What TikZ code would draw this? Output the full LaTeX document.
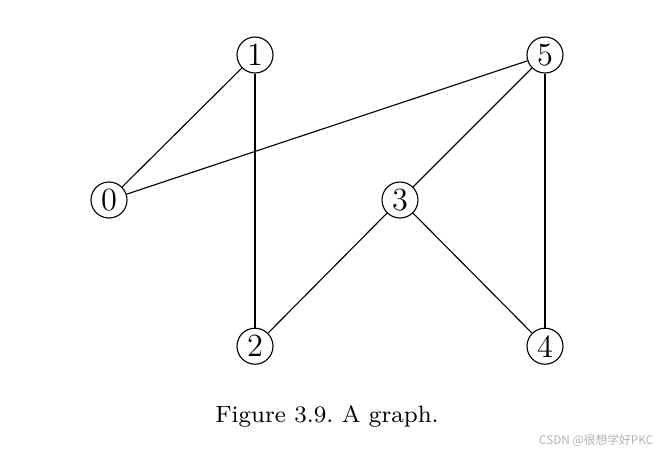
\documentclass[tikz,border=0pt]{standalone}
\usepackage{fontspec}
\newfontfamily\cjkfont{Noto Sans CJK SC}
\usetikzlibrary{positioning}

\begin{document}
\begin{tikzpicture}[node distance=1.8125cm and 1.8125cm,on grid,
                    main node/.style={circle,draw,inner sep=0pt,minimum size=0.45cm,
                                      font=\fontsize{11.5}{13}\selectfont}]

  \useasboundingbox (-1.3625,2.5) rectangle (6.95,-3.175);

  \node[main node] (0) {0};
  \node[main node] (1) [above right=1.8125cm and 1.825cm of 0] {1};
  \node[main node] (3) [below right=1.8125cm and 1.8125cm of 1] {3};
  \node[main node] (5) [above right=1.8125cm and 1.8125cm of 3] {5};
  \node[main node] (2) [below=3.64cm of 1] {2};
  \node[main node] (4) [below=3.64cm of 5] {4};

  \path[draw]
    (0) edge (1)
    (0) edge (5)
    (1) edge (2)
    (5) edge (3)
    (3) edge (2)
    (3) edge (4)
    (5) edge (4);

  \node[font=\fontsize{8.4}{10}\selectfont] (caption) at (2.725,-2.7) {\frenchspacing Figure 3.9. A graph.};
  \node[text=gray!60,font=\cjkfont\fontsize{4.2}{5}\selectfont] (mark) at (6.09,-3.0) {CSDN @很想学好PKC};
\end{tikzpicture}
\end{document}
